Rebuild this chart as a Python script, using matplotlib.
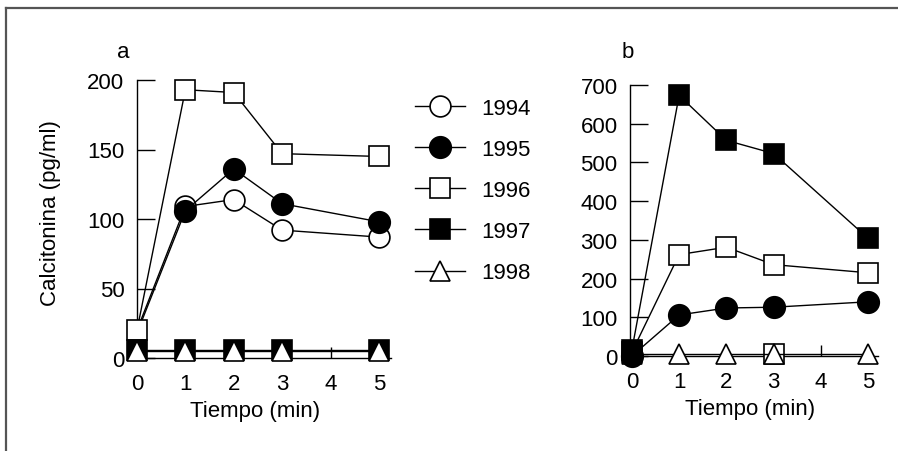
import numpy as np
import matplotlib
matplotlib.use("Agg")
import matplotlib.pyplot as plt
from matplotlib.lines import Line2D

plt.rcParams['font.family'] = ['Liberation Sans', 'DejaVu Sans']

#====== data ======
years = ['1994', '1995', '1996', '1997', '1998']
t_min = [0, 1, 2, 3, 5]

# panel a
a_1994 = [20, 109, 114, 92, 87]
a_1995 = [18, 106, 136, 111, 98]
a_1996 = [20, 193, 191, 147, 145]
a_1997 = [6, 6, 6, 6, 6]
a_1998 = [5, 5, 5, 5, 5]

# panel b (no 1994 series shown)
b_1995 = [0, 106, 124, 126, 140]
b_1996 = [10, 262, 281, 236, 215]
b_1997 = [16, 673, 557, 523, 304]
b_1998 = [5, 5, 5, 5, 5]
b_extra_t = [3]
b_extra_v = [6]

a_yticks = [0, 50, 100, 150, 200]
b_yticks = [0, 100, 200, 300, 400, 500, 600, 700]
xticks = [0, 1, 2, 3, 4, 5]

FS = 16
styles = {
    '1994': dict(marker='o', mfc='white', ms=15),
    '1995': dict(marker='o', mfc='black', ms=15.5),
    '1996': dict(marker='s', mfc='white', ms=14),
    '1997': dict(marker='s', mfc='black', ms=14),
    '1998': dict(marker='^', mfc='white', ms=14),
}

W, H = 898, 452
fig = plt.figure(figsize=(W / 100, H / 100), dpi=100)

def px_axes(x0, y0, x1, y1):
    return fig.add_axes([x0 / W, 1 - y1 / H, (x1 - x0) / W, (y1 - y0) / H])

def style_axes(ax, yticks):
    for s in ['top', 'right']:
        ax.spines[s].set_visible(False)
    for s in ['left', 'bottom']:
        ax.spines[s].set_linewidth(1.0)
    ax.set_xticks(xticks)
    ax.set_yticks(yticks)
    ax.tick_params(axis='y', direction='in', length=13, width=1.0, pad=9, labelsize=FS)
    ax.tick_params(axis='x', direction='in', length=8, width=1.0, pad=11, labelsize=FS)

def draw(ax, x, y, yr, z, skip_first=False):
    st = styles[yr]
    ax.plot(x, y, color='black', lw=1.0, marker=st['marker'], ms=st['ms'],
            mfc=st['mfc'], mec='black', mew=1.2, clip_on=False, zorder=z,
            markevery=slice(1, None) if skip_first else None)

#====== panel a ======
ax1 = px_axes(137, 81, 391, 359)
for yr, vals, z in zip(years, [a_1994, a_1995, a_1996, a_1997, a_1998], [3, 4, 5, 6, 7]):
    draw(ax1, t_min, vals, yr, z, skip_first=yr in ('1994', '1995'))
ax1.set_xlim(0, 5.25)
ax1.set_ylim(0, 200)
style_axes(ax1, a_yticks)
ax1.set_xlabel('Tiempo (min)', fontsize=FS)
ax1.xaxis.set_label_coords((255 - 137) / 254, -0.15)
ax1.set_ylabel('Calcitonina (pg/ml)', fontsize=FS)
ax1.yaxis.set_label_coords(-0.30, (359 - 213) / 278)

#====== panel b ======
ax2 = px_axes(630, 86, 878, 357)
ax2.plot(b_extra_t, b_extra_v, ls='none', marker='s', ms=14, mfc='white',
         mec='black', mew=1.2, clip_on=False, zorder=6)
for yr, vals, z in zip(years[1:], [b_1995, b_1996, b_1997, b_1998], [8, 4, 5, 7]):
    draw(ax2, t_min, vals, yr, z)
ax2.set_xlim(-0.04, 5.21)
ax2.set_ylim(0, 700)
style_axes(ax2, b_yticks)
ax2.set_xlabel('Tiempo (min)', fontsize=FS)
ax2.xaxis.set_label_coords((750 - 630) / 248, -0.155)

fig.text(123 / W, 1 - 52 / H, 'a', fontsize=FS, ha='center', va='center')
fig.text(628 / W, 1 - 52 / H, 'b', fontsize=FS, ha='center', va='center')

#====== legend between panels ======
handles = [Line2D([], [], color='black', lw=1.0, marker=styles[y]['marker'],
                  ms=styles[y]['ms'], mfc=styles[y]['mfc'], mec='black', mew=1.2)
           for y in years]
fig.legend(handles, years, loc='center left', bbox_to_anchor=(415 / W, 1 - 191.5 / H),
           frameon=False, fontsize=FS, handlelength=2.25, handletextpad=0.75,
           labelspacing=0.91, borderpad=0, borderaxespad=0)

#====== frame lines (left and top only) ======
fig.add_artist(Line2D([6 / W, 6 / W], [0, 1 - 8.5 / H], color='#555555', lw=1.6))
fig.add_artist(Line2D([6 / W, 1], [1 - 8.5 / H, 1 - 8.5 / H], color='#555555', lw=1.6))

fig.savefig('out.png', dpi=100)
